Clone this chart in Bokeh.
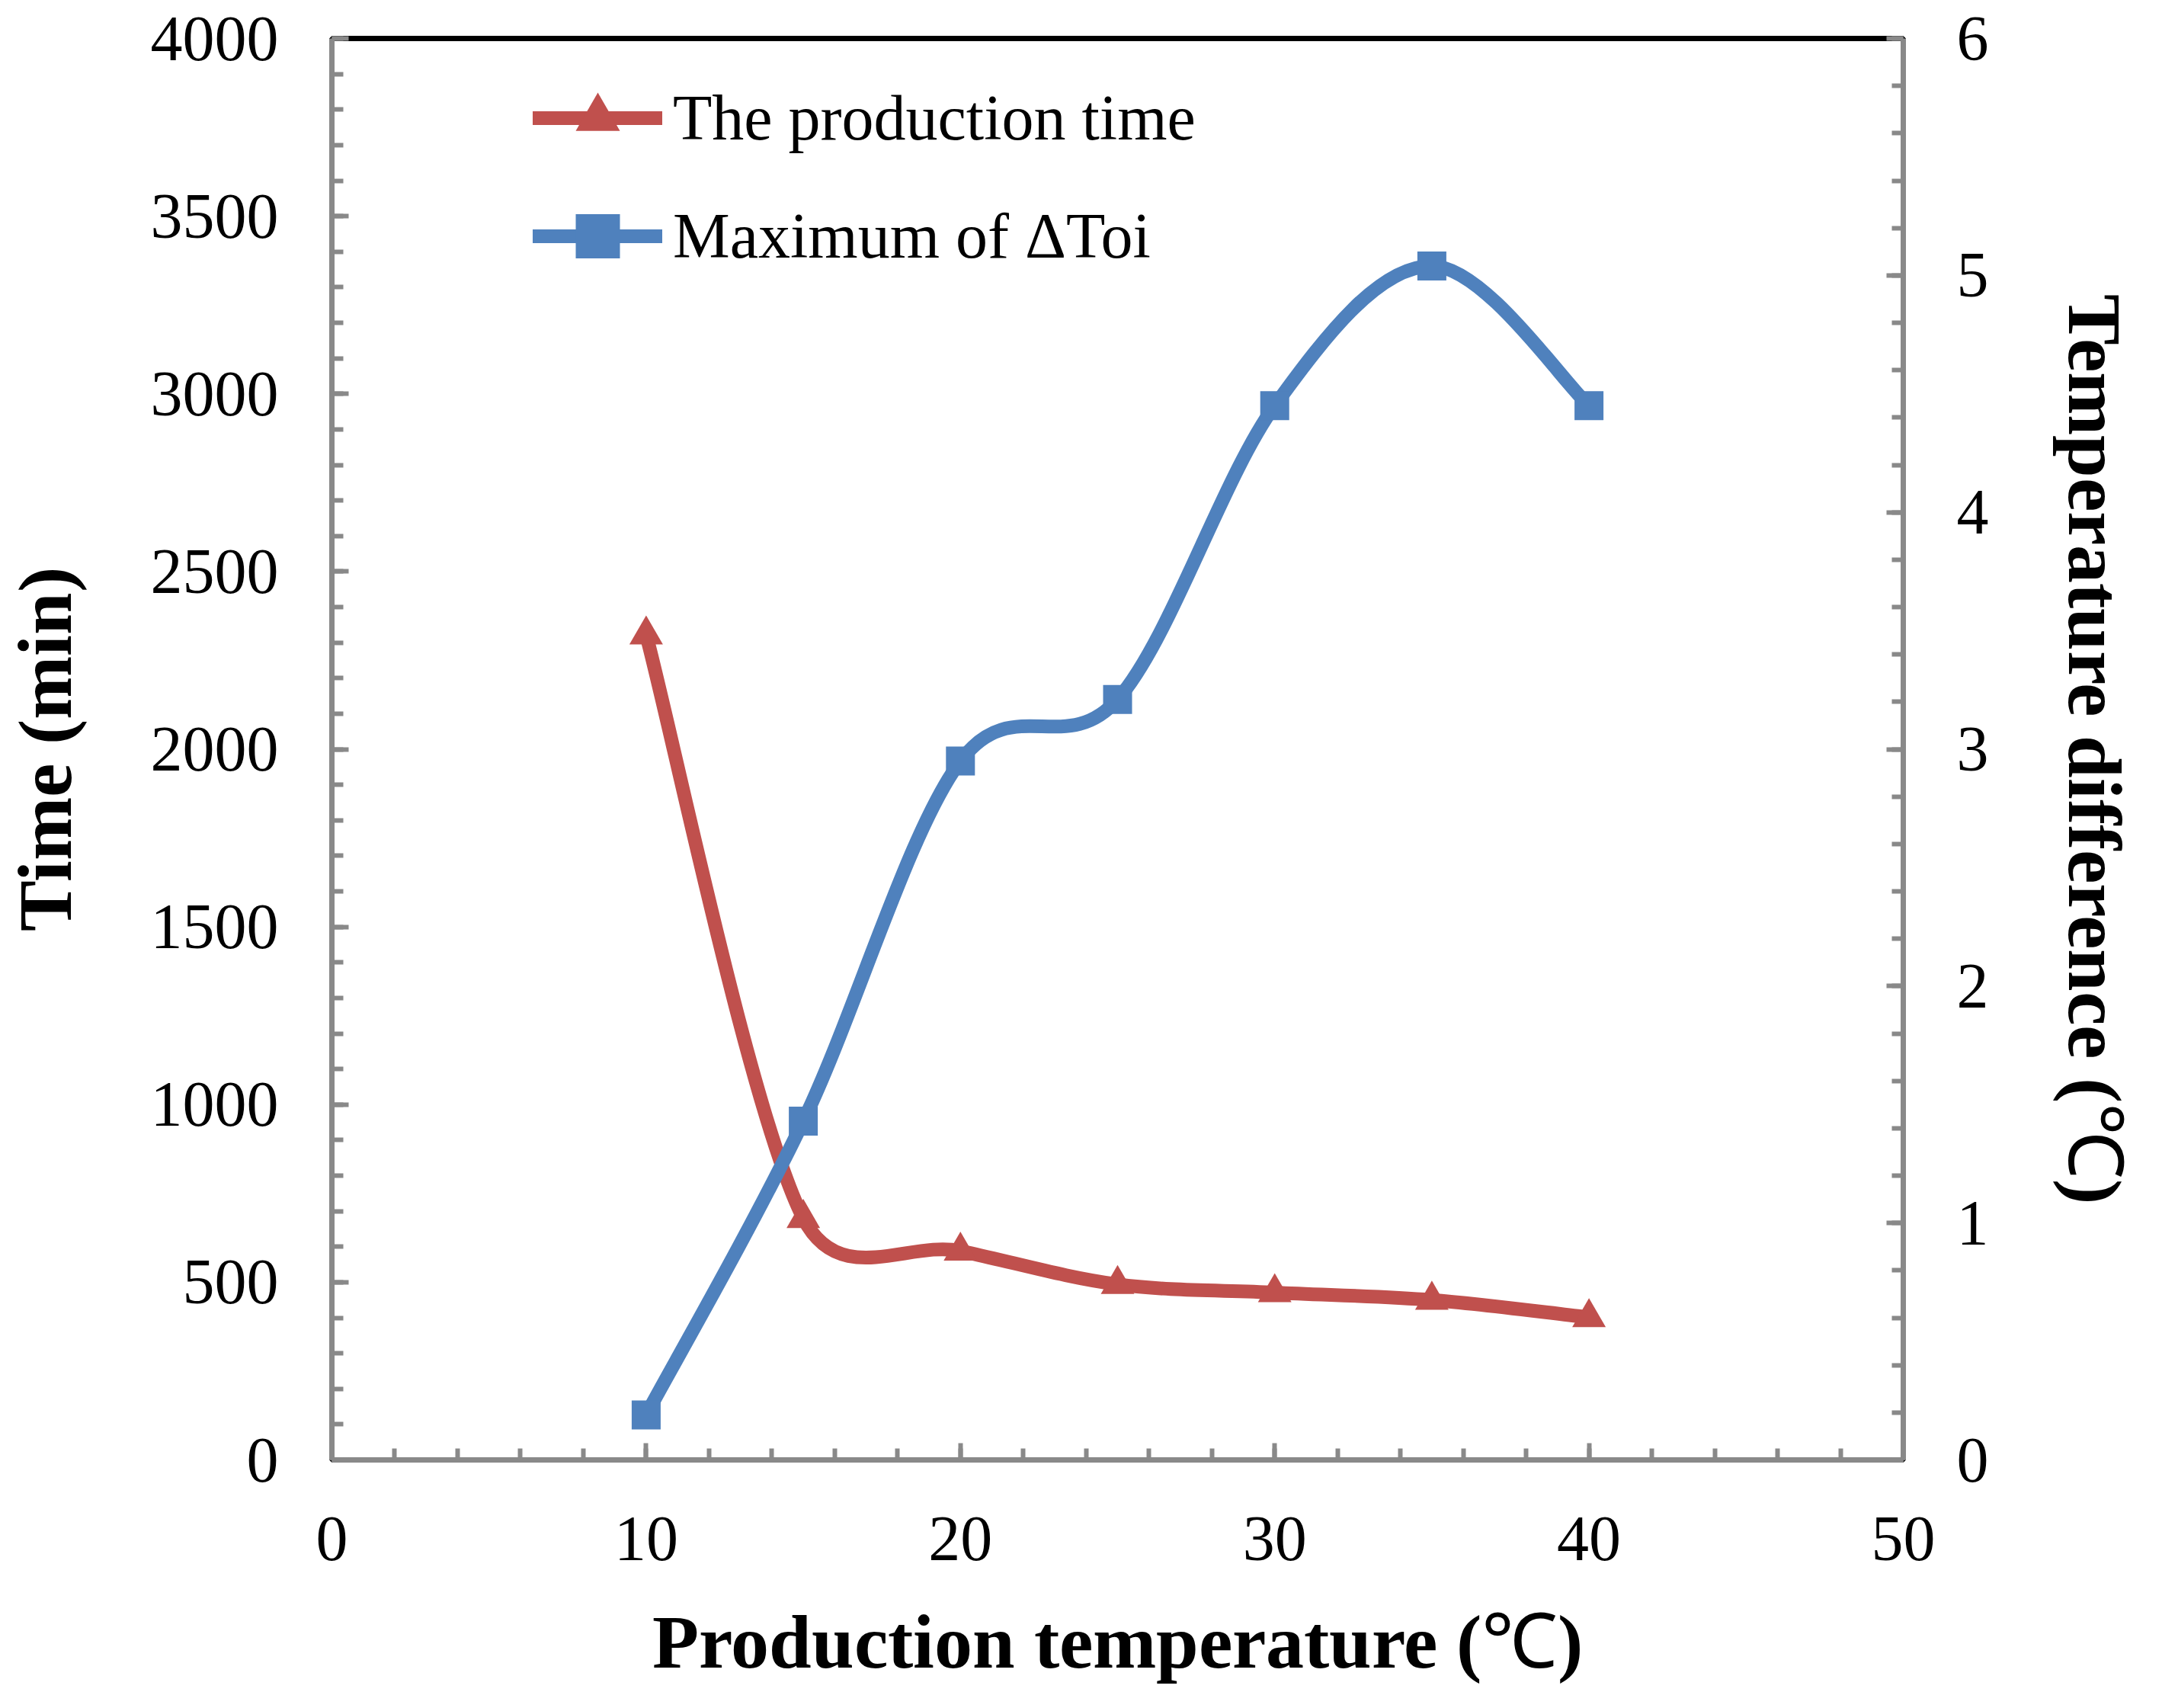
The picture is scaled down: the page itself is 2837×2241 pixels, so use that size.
import math
from bokeh.plotting import figure
from bokeh.models import (Range1d, LinearAxis, SingleIntervalTicker,
                          Legend, LegendItem, ColumnDataSource)
from bokeh.embed import file_html
from bokeh.resources import INLINE

# ---------------- data ----------------
temps = [10, 15, 20, 25, 30, 35, 40]
production_time = [2322, 680, 588, 494, 471, 450, 401]      # left axis (min)
max_delta_toi = [0.19, 1.43, 2.95, 3.21, 4.45, 5.04, 4.45]  # right axis (degC)
series_names = ["The production time", "Maximum of \u0394Toi"]
x_title = "Production temperature (\u2103)"
y_title = "Time (min)"
y2_title = "Temperature difference (\u2103)"

RED = "#C0504D"
BLUE = "#4F81BD"
GRAY = "#898989"
FONT = "Liberation Serif"
BOLD_FONT = "LibSerifBold"   # @font-face alias of the bold face (see page head)

W, H = 2820, 2224
ML, MR, MT, MB = 432, 323, 50, 309
FW, FH = W - ML - MR, H - MT - MB
X0, X1 = 0, 50
YL0, YL1 = 0, 4000
YR0, YR1 = 0, 6

p = figure(width=W, height=H, output_backend="svg", toolbar_location=None,
           x_range=Range1d(X0, X1), y_range=Range1d(YL0, YL1),
           min_border_left=ML, min_border_right=MR, min_border_top=MT, min_border_bottom=MB,
           background_fill_color="white", border_fill_color="white",
           outline_line_color="black", outline_line_width=7)
p.extra_y_ranges = {"right": Range1d(YR0, YR1)}
p.xgrid.visible = False
p.ygrid.visible = False


def style_axis(ax, interval, standoff, label_standoff):
    ax.ticker = SingleIntervalTicker(interval=interval, num_minor_ticks=5)
    ax.axis_line_color = GRAY
    ax.axis_line_width = 7
    ax.major_tick_line_color = GRAY
    ax.major_tick_line_width = 6
    ax.minor_tick_line_color = GRAY
    ax.minor_tick_line_width = 6
    ax.major_tick_in = 22
    ax.major_tick_out = 0
    ax.minor_tick_in = 15
    ax.minor_tick_out = 0
    ax.major_label_text_font = FONT
    ax.major_label_text_font_size = "84px"
    ax.major_label_text_color = "black"
    ax.major_label_standoff = standoff
    ax.axis_label_text_font = BOLD_FONT
    ax.axis_label_text_font_style = "normal"
    ax.axis_label_text_font_size = "100px"
    ax.axis_label_text_color = "black"
    ax.axis_label_standoff = label_standoff


style_axis(p.xaxis[0], 10, 75, 49)
p.xaxis[0].axis_label = x_title
style_axis(p.yaxis[0], 500, 70, 80)
p.yaxis[0].axis_label = y_title

yr = LinearAxis(y_range_name="right")
style_axis(yr, 1, 70, 80)
yr.axis_label = y2_title
p.add_layout(yr, "right")

# ---------- smoothed (Excel-like) Bezier segments ----------
px_x = FW / (X1 - X0)


def smooth(xs, ys, px_y, k=0.55):
    n = len(xs)
    P = [(x * px_x, y * px_y) for x, y in zip(xs, ys)]

    def dist(i, j):
        return math.hypot(P[j][0] - P[i][0], P[j][1] - P[i][1])

    def tangent(i):
        a = P[max(i - 1, 0)]
        b = P[min(i + 1, n - 1)]
        return (b[0] - a[0], b[1] - a[1])

    seg = dict(x0=[], y0=[], x1=[], y1=[], cx0=[], cy0=[], cx1=[], cy1=[])
    for i in range(n - 1):
        ti, tj = tangent(i), tangent(i + 1)
        if i == 0:
            wo = 1 / 6
        else:
            wo = min(1 / 6, k * dist(i, i + 1) / (dist(i - 1, i) + dist(i, i + 1)))
        if i + 1 == n - 1:
            wi = 1 / 6
        else:
            wi = min(1 / 6, k * dist(i, i + 1) / (dist(i, i + 1) + dist(i + 1, i + 2)))
        c0 = (P[i][0] + ti[0] * wo, P[i][1] + ti[1] * wo)
        c1 = (P[i + 1][0] - tj[0] * wi, P[i + 1][1] - tj[1] * wi)
        seg["x0"].append(xs[i]); seg["y0"].append(ys[i])
        seg["x1"].append(xs[i + 1]); seg["y1"].append(ys[i + 1])
        seg["cx0"].append(c0[0] / px_x); seg["cy0"].append(c0[1] / px_y)
        seg["cx1"].append(c1[0] / px_x); seg["cy1"].append(c1[1] / px_y)
    return ColumnDataSource(seg)


red_src = smooth(temps, production_time, FH / (YL1 - YL0))
blue_src = smooth(temps, max_delta_toi, FH / (YR1 - YR0))

LW = 18
p.bezier(x0="x0", y0="y0", x1="x1", y1="y1", cx0="cx0", cy0="cy0", cx1="cx1", cy1="cy1",
         source=red_src, line_color=RED, line_width=LW, line_cap="round", line_join="round")
p.scatter(temps, production_time, marker="triangle", size=44, fill_color=RED, line_color=None)

p.bezier(x0="x0", y0="y0", x1="x1", y1="y1", cx0="cx0", cy0="cy0", cx1="cx1", cy1="cy1",
         source=blue_src, line_color=BLUE, line_width=LW, line_cap="round", line_join="round",
         y_range_name="right")
p.scatter(temps, max_delta_toi, marker="square", size=38, fill_color=BLUE, line_color=None,
          y_range_name="right")

nan = float("nan")
lr1 = p.line(x=[nan], y=[nan], line_color=RED, line_width=LW, line_cap="round")
ls1 = p.scatter(x=[nan], y=[nan], marker="triangle", fill_color=RED, line_color=None)
lr2 = p.line(x=[nan], y=[nan], line_color=BLUE, line_width=LW, line_cap="round")
ls2 = p.scatter(x=[nan], y=[nan], marker="square", fill_color=BLUE, line_color=None)

GH = 145
SP = 10
legend_h = 2 * GH + SP
legend = Legend(items=[LegendItem(label=series_names[0], renderers=[lr1, ls1]),
                       LegendItem(label=series_names[1], renderers=[lr2, ls2])],
                location=(264, FH - 32 - legend_h),
                padding=0, margin=0, spacing=SP,
                glyph_width=170, glyph_height=GH, label_height=GH, label_standoff=14,
                label_text_font=FONT, label_text_font_size="84px", label_text_color="black",
                border_line_color=None, background_fill_alpha=0)
p.add_layout(legend)

html = file_html(p, INLINE)
head_extra = """<style>
@font-face { font-family: "LibSerifBold"; src: local("Liberation Serif Bold"), local("LiberationSerif-Bold"); }
</style>"""
html = html.replace("<head>", "<head>" + head_extra, 1)
open("out.html", "w").write(html)
